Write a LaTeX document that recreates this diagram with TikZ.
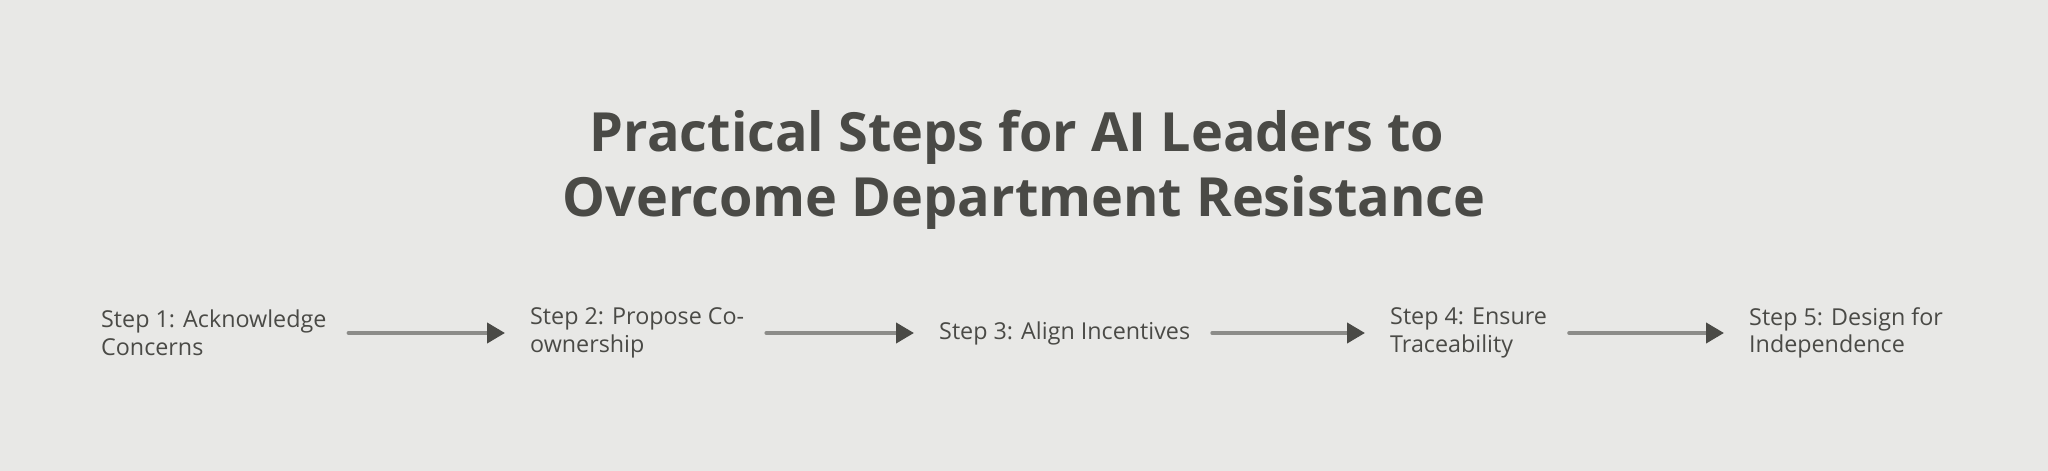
\documentclass[tikz,border=0pt]{standalone}
\usepackage{fontspec}
\setmainfont{Open Sans}
\usetikzlibrary{arrows.meta,positioning}
\definecolor{bgcol}{HTML}{E8E8E6}
\definecolor{txtcol}{HTML}{4A4A46}
\definecolor{linecol}{HTML}{8C8C89}
\begin{document}
\begin{tikzpicture}[x=1pt,y=1pt,
  stepnode/.style={anchor=west,inner sep=0pt,align=left,text=txtcol,font=\fontsize{23.3}{27.5}\selectfont},
  titlenode/.style={align=center,inner sep=0pt,text=txtcol,font=\fontsize{54}{65}\selectfont\bfseries},
  flow/.style={linecol,line width=4pt,line cap=round,-{Triangle[length=18pt,width=20pt,color=txtcol]},
    shorten <=22pt,shorten >=25pt}
  ]
  \fill[bgcol] (0,0) rectangle (2048,471);
  \useasboundingbox (0,0) rectangle (2048,471);

  \node[titlenode,anchor=base] (title) at (1024,254) {Practical Steps for AI Leaders to\hspace*{0.26em}\\Overcome Department Resistance};

  \node[stepnode] (s1) at (101,138) {Step 1: Acknowledge\\Concerns};
  \node[stepnode] (s2) at (530,138) {Step 2: Propose Co-\\ownership};
  \node[stepnode] (s3) at (939,138) {Step 3: Align Incentives};
  \node[stepnode] (s4) at (1390,138) {Step 4: Ensure\\Traceability};
  \node[stepnode] (s5) at (1749,138) {Step 5: Design for\\Independence};

  \foreach \a/\b in {s1/s2,s2/s3,s3/s4,s4/s5}
    \draw[flow] (\a.east) -- (\b.west);
\end{tikzpicture}
\end{document}
